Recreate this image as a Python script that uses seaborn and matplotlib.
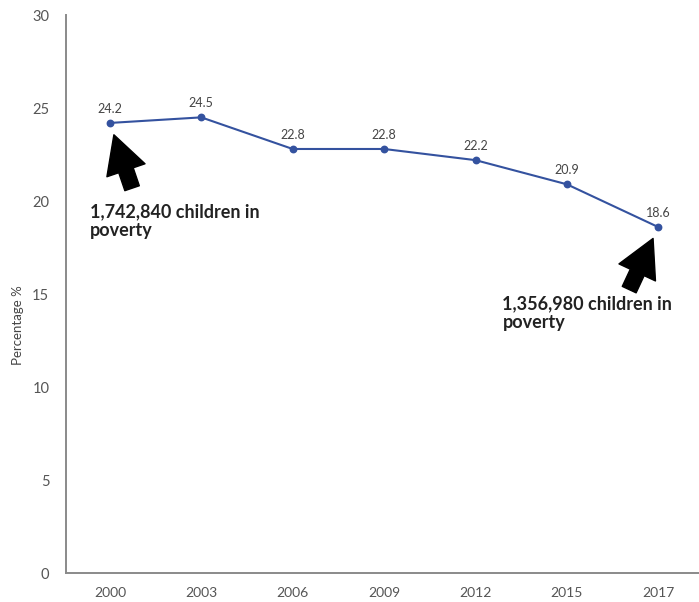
import matplotlib
matplotlib.use("Agg")
import matplotlib.pyplot as plt
import seaborn as sns
import pandas as pd

# data
years = ["2000", "2003", "2006", "2009", "2012", "2015", "2017"]
pct = [24.2, 24.5, 22.8, 22.8, 22.2, 20.9, 18.6]
note_first = "1,742,840 children in\npoverty"
note_last = "1,356,980 children in\npoverty"

sns.set_theme(style="white")
plt.rcParams["font.family"] = ["Lato", "DejaVu Sans"]

df = pd.DataFrame({"year": years, "pct": pct})

fig = plt.figure(figsize=(6.99, 6.02), dpi=100)
ax = fig.add_axes([0.0944, 0.048, 0.905, 0.927])

line_col = "#34529F"
sns.pointplot(
    data=df, x="year", y="pct", ax=ax,
    color=line_col, markers="o", markersize=4.5, linewidth=1.5,
)

# value labels
for i, v in enumerate(df["pct"]):
    ax.annotate(f"{v:.1f}", xy=(i, v), xytext=(0, 6), textcoords="offset points",
                ha="center", va="bottom", fontsize=9, color="#444444")

# block arrows pointing at first and last points
arrow_style = "simple,head_length=2.7,head_width=2.9,tail_width=1.1"
ax.annotate("", xy=(0, pct[0]), xytext=(16, -47), textcoords="offset points",
            arrowprops=dict(arrowstyle=arrow_style, color="black", mutation_scale=10,
                            shrinkA=0, shrinkB=9))
ax.annotate("", xy=(len(pct) - 1, pct[-1]), xytext=(-21, -45), textcoords="offset points",
            arrowprops=dict(arrowstyle=arrow_style, color="black", mutation_scale=10,
                            shrinkA=0, shrinkB=9))

ax.text(0.038, 0.663, note_first, transform=ax.transAxes, ha="left", va="top",
        fontsize=13, fontweight="bold", color="#222222", linespacing=1.1)
ax.text(0.690, 0.498, note_last, transform=ax.transAxes, ha="left", va="top",
        fontsize=13, fontweight="bold", color="#222222", linespacing=1.1)

ax.set_ylim(0, 30)
ax.set_yticks(range(0, 31, 5))
ax.set_xlim(-0.48, 6.44)
ax.set_xlabel("")
ax.set_ylabel("Percentage %", fontsize=9.5, color="#444444")
ax.yaxis.set_label_coords(-0.066, 0.445)
ax.tick_params(axis="both", length=0, labelsize=10, colors="#555555")
ax.tick_params(axis="x", pad=10)
ax.tick_params(axis="y", pad=12, labelsize=10.5)

sns.despine(ax=ax)
for s in ["left", "bottom"]:
    ax.spines[s].set_color("#8a8a8a")
    ax.spines[s].set_linewidth(1.4)

fig.savefig("out.png", dpi=100)
